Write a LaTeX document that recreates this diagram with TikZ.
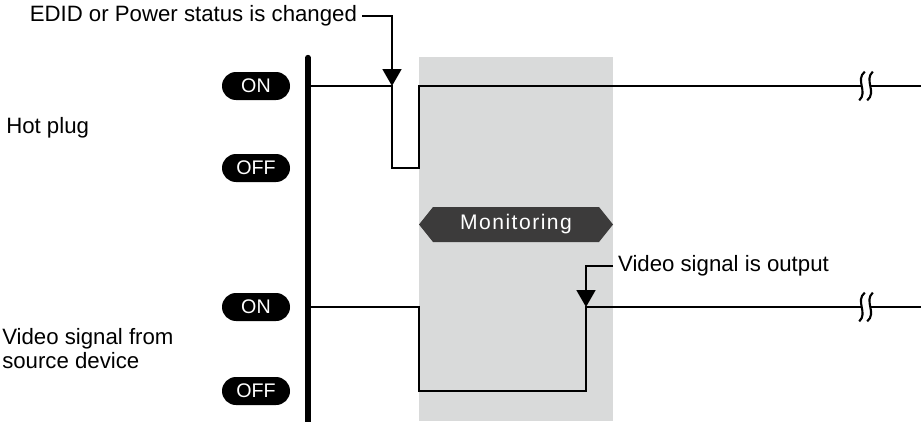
\documentclass[tikz,border=0pt]{standalone}
\usepackage{fontspec}
\setmainfont{Liberation Sans}
\usetikzlibrary{arrows.meta}
\definecolor{monigray}{HTML}{D9DADA}
\definecolor{tagdark}{HTML}{3C3B3B}
\tikzset{
	sig/.style={line width=1.3pt},
	badge/.style={fill=black, text=white, rounded corners=0.35cm, minimum width=1.7cm, minimum height=0.7cm, inner sep=0, font=\fontsize{14}{15}\selectfont},
	lbl/.style={inner sep=0, font=\fontsize{15.8}{16.5}\selectfont},
	hit/.style={sig, -{Triangle[width=4.7mm, length=4.2mm]}}
}
\def\breakmark(#1,#2){%
	\fill[white, shift={(#1,#2)}] (-0.1,-0.1) rectangle (0.1,0.1);
	\draw[sig, line width=1.5pt, shift={(#1,#2)}] (-0.03,0.36) .. controls (-0.28,0.15) and (0.06,-0.15) .. (-0.17,-0.36);
	\draw[sig, line width=1.5pt, shift={(#1,#2)}] (0.17,0.36) .. controls (-0.06,0.15) and (0.28,-0.15) .. (0.03,-0.36);
}

\begin{document}
\begin{tikzpicture}
		%%%%% START %%%%%
		\useasboundingbox (0,0) rectangle (23.025,10.525);
		
		\fill[monigray] (10.475,0) rectangle (15.325,9.1);
		
		\fill[tagdark] (10.475,4.9125) -- (10.825,5.35) -- (14.975,5.35) -- (15.325,4.9125) -- (14.975,4.475) -- (10.825,4.475) -- cycle;
		\node[lbl, text=white, font=\fontsize{15}{16.5}\selectfont\addfontfeature{LetterSpace=7}] (moni) at (12.9,4.9125) {Monitoring};
		
		\draw[sig] (7.7,8.375) -- (9.8,8.375) -- (9.8,6.325) -- (10.475,6.325) -- (10.475,8.375) -- (23.1,8.375);
		\breakmark(21.65,8.375);
		
		\draw[sig] (7.7,2.85) -- (10.475,2.85) -- (10.475,0.75) -- (14.65,0.75) -- (14.65,2.85) -- (23.1,2.85);
		\breakmark(21.65,2.85);
		
		\draw[line width=0.15cm, line cap=round] (7.7,9.08) -- (7.7,-0.2);
		
		\node[badge] (hpon) at (6.4,8.375) {ON};
		\node[badge] (hpoff) at (6.4,6.325) {OFF};
		\node[badge] (vson) at (6.4,2.85) {ON};
		\node[badge] (vsoff) at (6.4,0.75) {OFF};
		
		\node[lbl, anchor=west] (hot) at (0.15,7.325) {Hot plug};
		\node[lbl, anchor=west, align=left] (vsrc) at (0.05,1.81) {Video signal from\\source device};
		
		\node[lbl, anchor=east, inner xsep=0.12cm] (edid) at (9.05,10.125) {EDID or Power status is changed};
		\coordinate (edidhit) at (9.8,8.375);
		\draw[hit] (edid.east) -| (edidhit);
		
		\node[lbl, anchor=west, inner xsep=0.12cm] (vout) at (15.325,3.875) {Video signal is output};
		\coordinate (vsighit) at (14.65,2.85);
		\draw[hit] (vout.west) -| (vsighit);
		%%%%% END %%%%%
\end{tikzpicture}
\end{document}
